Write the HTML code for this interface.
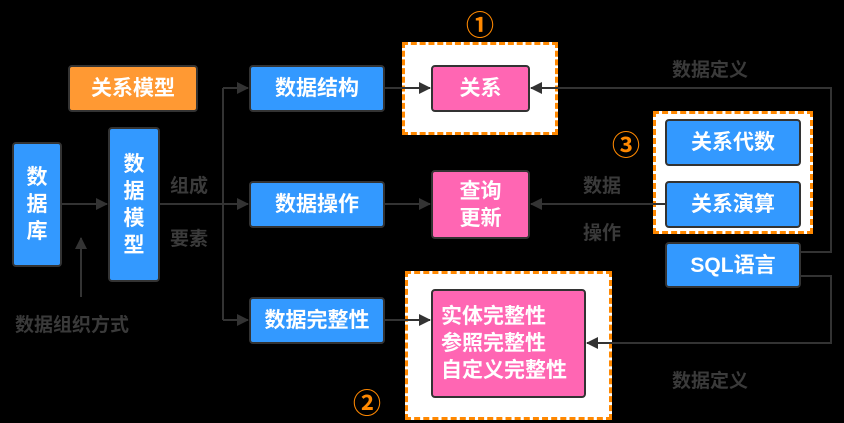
<!DOCTYPE html><html><head><meta charset="utf-8"><style>
body{margin:0;background:#000;width:844px;height:423px;overflow:hidden;position:relative;font-family:"Liberation Sans","Noto Sans CJK SC",sans-serif;font-weight:bold}
.b{position:absolute;box-sizing:border-box;border:2px solid #333;border-radius:4px;color:#fff;display:flex;align-items:center;justify-content:center;text-align:center;font-size:21px;line-height:27px}
.bl{background:#3399ff}.pk{background:#ff66b3}.or{background:#ff9933}
.d{position:absolute;box-sizing:border-box;border:3px dashed #ff8800;background:#fff}
.t{position:absolute;color:#3a3a3a;font-size:19px}
.c{position:absolute;color:#ff8800;font-size:28px;font-weight:bold}
</style></head><body>
<div class="d" style="left:402px;top:42px;width:156px;height:93px"></div>
<div class="d" style="left:653px;top:111px;width:160px;height:123px"></div>
<div class="d" style="left:405px;top:271px;width:207px;height:149px"></div>
<svg width="844" height="423" style="position:absolute;left:0;top:0">
<defs><marker id="a" markerWidth="12" markerHeight="12" refX="11" refY="6" orient="auto" markerUnits="userSpaceOnUse"><path d="M0,0L12,6L0,12z" fill="#333"/></marker></defs>
<g stroke="#333" stroke-width="2" fill="none">
<path d="M62 204H107" marker-end="url(#a)"/>
<path d="M81 297V238" marker-end="url(#a)"/>
<path d="M160 204H248" marker-end="url(#a)"/>
<path d="M223 88V320"/>
<path d="M223 88H248" marker-end="url(#a)"/>
<path d="M223 320H248" marker-end="url(#a)"/>
<path d="M385 88H430" marker-end="url(#a)"/>
<path d="M385 204H430" marker-end="url(#a)"/>
<path d="M385 320H430" marker-end="url(#a)"/>
<path d="M665 204H531" marker-end="url(#a)"/>
<path d="M801 252H831V88H531" marker-end="url(#a)"/>
<path d="M801 276H831V343H587" marker-end="url(#a)"/>
</g></svg>
<div class="b bl" style="left:12px;top:142px;width:50px;height:125px">数<br>据<br>库</div>
<div class="b bl" style="left:108px;top:127px;width:52px;height:155px">数<br>据<br>模<br>型</div>
<div class="b or" style="left:68px;top:65px;width:130px;height:47px">关系模型</div>
<div class="b bl" style="left:249px;top:65px;width:136px;height:47px">数据结构</div>
<div class="b bl" style="left:249px;top:181px;width:136px;height:47px">数据操作</div>
<div class="b bl" style="left:249px;top:297px;width:136px;height:47px">数据完整性</div>
<div class="b pk" style="left:431px;top:65px;width:99px;height:47px">关系</div>
<div class="b pk" style="left:431px;top:170px;width:99px;height:69px">查询<br>更新</div>
<div class="b pk" style="left:431px;top:289px;width:155px;height:109px;justify-content:flex-start;text-align:left;padding-left:8px">实体完整性<br>参照完整性<br>自定义完整性</div>
<div class="b bl" style="left:665px;top:119px;width:136px;height:47px">关系代数</div>
<div class="b bl" style="left:665px;top:181px;width:136px;height:47px">关系演算</div>
<div class="b bl" style="left:665px;top:242px;width:136px;height:46px">SQL语言</div>
<div class="t" style="left:15px;top:310px">数据组织方式</div>
<div class="t" style="left:170px;top:171px">组成</div>
<div class="t" style="left:170px;top:224px">要素</div>
<div class="t" style="left:672px;top:55px">数据定义</div>
<div class="t" style="left:672px;top:366px">数据定义</div>
<div class="t" style="left:583px;top:171px">数据</div>
<div class="t" style="left:583px;top:218px">操作</div>
<div class="c" style="left:466px;top:4px">①</div>
<div class="c" style="left:612px;top:124px">③</div>
<div class="c" style="left:353px;top:382px">②</div>
</body></html>
